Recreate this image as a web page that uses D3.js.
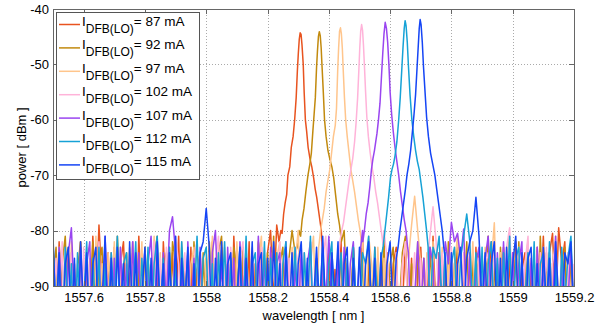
<!DOCTYPE html>
<html lang="en">
<head>
   <meta charset="UTF-8">
   <title>DFB spectra</title>
   <script src="https://d3js.org/d3.v7.min.js"></script>
   <style>
       body {
           margin: 0;
           background: #fff;
           font-family: "Liberation Sans", Arial, sans-serif;
       }
       .spectra-svg {
           display: block;
       }
       .axis text {
           font-size: 13px;
           fill: #000;
       }
       .axis line {
           stroke: #666;
           shape-rendering: crispEdges;
       }
       .grid line {
           stroke: #aaa;
           stroke-dasharray: 1,2;
           shape-rendering: crispEdges;
       }
       .trace {
           fill: none;
           stroke-width: 1.5;
           stroke-linejoin: round;
       }
   </style>
</head>
<body>
   <svg class="spectra-svg" id="spectra" width="615" height="323"></svg>
   <script>
    // laser currents and trace colours
    var currents = [87, 92, 97, 102, 107, 112, 115];
    var colors = ["#E8531F", "#C28A0E", "#FFC58C", "#FFB3D9", "#9A45F0", "#16A2D6", "#1545F5"];

    var xTicks = [1557.6, 1557.8, 1558, 1558.2, 1558.4, 1558.6, 1558.8, 1559, 1559.2];
    var yTicks = [-90, -80, -70, -60, -50, -40];

    // noise floor, sampled every 0.01 nm from 1557.5 nm (dBm)
    var noiseStart = 1557.5, noiseStep = 0.01;
    var noise87 = [
        -84,-98,-82,-93,-101,-83,-95,-86,-104,-82,
        -96,-86,-99,-81,-94,-79,-90,-103,-84,-97,
        -83,-106,-86,-82,-97,-88,-84,-100,-81,-95,
        -102,-85,-96,-83,-87,-105,-82,-93,-99,-84,
        -95,-81,-103,-86,-97,-83,-108,-87,-84,-99,
        -85,-96,-82,-104,-92,-83,-100,-86,-105,-81,
        -94,-101,-84,-97,-82,-107,-86,-96,-83,-99,
        -84,-80,-93,-79,-82,-85,-83,-86,-84,-88,
        -97,-85,-102,-83,-96,-86,-104,-82,-94,-100,
        -84,-103,-87,-97,-82,-106,-86,-95,-83,-101,
        -96,-81,-99,-85,-104,-83,-97,-87,-102,-84,
        -98,-86,-83,-103,-94,-82,-99,-85,-107,-87,
        -83,-97,-86,-101,-81,-95,-84,-105,-87,-99,
        -85,-94,-82,-103,-86,-98,-84,-108,-83,-96,
        -100,-84,-93,-82,-105,-86,-97,-83,-101,-85,
        -96,-82,-103,-87,-84,-99,-86,-106,-83,-94,
        -81,-98,-84,-80.5,-95,-79.5,-86,-82,-100,-84,
        -93];
    var noise92 = [
        -88,-83,-101,-86,-81,-97,-84,-104,-87,-82,
        -99,-85,-95,-82,-106,-86,-83,-98,-94,-84,
        -103,-81,-93,-99,-84,-96,-82,-107,-86,-97,
        -83,-94,-102,-85,-81,-104,-87,-84,-98,-82,
        -86,-105,-83,-96,-85,-100,-82,-94,-103,-84,
        -97,-82,-93,-108,-84,-81,-96,-86,-101,-83,
        -87,-99,-83,-95,-106,-85,-97,-82,-86,-103,
        -84,-96,-81,-101,-86,-83,-98,-85,-80,-84,
        -82,-95,-86,-100,-84,-97,-83,-99,-87,-102,
        -85,-81,-96,-84,-104,-80,-93,-100,-83,-95,
        -98,-84,-103,-82,-93,-107,-85,-96,-81,-104,
        -86,-83,-100,-94,-84,-81,-98,-86,-106,-82,
        -96,-85,-102,-83,-94,-99,-84,-93,-104,-82,
        -98,-86,-83,-105,-95,-82,-100,-85,-96,-84,
        -103,-92,-81,-98,-85,-104,-83,-95,-86,-100,
        -84,-97,-82,-108,-93,-83,-99,-85,-102,-81,
        -95,-84,-104,-86,-82,-98,-92,-83,-101,-85,
        -96];
    var noise97 = [
        -86,-102,-83,-96,-85,-105,-82,-94,-100,-84,
        -98,-83,-93,-104,-81,-97,-86,-101,-84,-95,
        -82,-99,-85,-106,-93,-83,-100,-86,-96,-82,
        -103,-85,-94,-81,-98,-84,-102,-92,-83,-97,
        -85,-100,-82,-95,-105,-86,-83,-98,-93,-102,
        -84,-96,-81,-104,-86,-99,-83,-94,-85,-106,
        -82,-93,-101,-84,-97,-83,-103,-86,-81,-98,
        -94,-84,-104,-85,-82,-100,-92,-96,-83,-86,
        -80,-95,-84,-102,-86,-81,-99,-85,-93,-83,
        -97,-86,-103,-84,-95,-83,-100,-92,-85,-98,
        -84,-82,-96,-81,-86,-99,-83,-102,-85,-97,
        -93,-104,-84,-98,-86,-82,-85,-79,-73.8,-80,
        -86,-101,-84,-96,-82,-105,-93,-83,-99,-85,
        -103,-86,-81,-97,-84,-104,-93,-82,-98,-85,
        -95,-83,-100,-86,-78.6,-97,-84,-102,-85,-81,
        -99,-93,-83,-106,-86,-82,-101,-95,-84,-97,
        -83,-103,-86,-98,-81,-94,-85,-105,-84,-92,
        -100];
    var noise102 = [
        -100,-85,-94,-82,-104,-93,-84,-98,-86,-102,
        -83,-96,-85,-106,-94,-82,-101,-86,-99,-84,
        -92,-103,-83,-95,-85,-100,-82,-97,-105,-86,
        -84,-98,-93,-82,-102,-85,-96,-83,-104,-94,
        -81,-86,-100,-84,-95,-103,-85,-82,-99,-92,
        -102,-84,-96,-86,-81,-100,-85,-106,-83,-94,
        -98,-85,-82,-104,-93,-84,-97,-101,-83,-86,
        -105,-95,-84,-99,-82,-93,-103,-85,-96,-83,
        -86,-101,-84,-94,-82,-104,-92,-98,-85,-81,
        -97,-84,-102,-86,-95,-83,-99,-85,-93,-82,
        -101,-86,-83,-96,-84,-103,-92,-82,-80,-85,
        -94,-104,-84,-99,-86,-82,-100,-93,-84,-97,
        -85,-102,-86,-81,-75.7,-82,-95,-84,-105,-93,
        -83,-99,-86,-103,-84,-96,-82,-101,-93,-85,
        -104,-86,-84,-98,-82,-94,-85,-100,-83,-79.5,
        -92,-102,-84,-97,-86,-81,-105,-85,-99,-84,
        -95,-83,-101,-86,-82,-97,-85,-103,-84,-98,
        -86];
    var noise107 = [
        -85,-98,-83,-94,-102,-84,-79.5,-93,-100,-83,
        -97,-86,-82,-104,-93,-84,-99,-81,-95,-106,
        -85,-101,-83,-96,-86,-103,-82,-94,-84,-99,
        -105,-86,-81,-97,-85,-100,-84,-93,-80,-77.5,
        -84,-99,-86,-104,-82,-95,-85,-101,-83,-96,
        -92,-107,-84,-80,-94,-86,-102,-83,-97,-85,
        -100,-82,-93,-84,-105,-86,-98,-81,-95,-85,
        -103,-83,-96,-86,-84,-101,-82,-94,-106,-85,
        -97,-83,-102,-86,-82,-99,-85,-104,-84,-93,
        -81,-92,-103,-84,-97,-83,-100,-86,-82,-95,
        -85,-80,-84,-99,-86,-101,-84,-94,-82,-93,
        -98,-85,-83,-102,-86,-96,-84,-104,-92,-82,
        -95,-85,-99,-83,-86,-103,-84,-97,-82,-86,
        -78.5,-82,-80.5,-85,-79.7,-96,-84,-101,-86,-83,
        -98,-85,-81,-94,-104,-84,-97,-82,-93,-100,
        -84,-99,-86,-82,-105,-95,-85,-102,-83,-96,
        -86,-103,-84,-94,-81,-98,-85,-106,-93,-83,
        -97];
    var noise112 = [
        -82,-95,-85,-101,-83,-97,-86,-104,-84,-99,
        -93,-82,-103,-85,-96,-83,-106,-86,-98,-84,
        -94,-81,-100,-86,-84,-104,-92,-82,-99,-85,
        -96,-83,-102,-86,-81,-95,-85,-107,-83,-98,
        -86,-101,-82,-93,-84,-105,-95,-81,-97,-85,
        -83,-99,-86,-103,-84,-94,-82,-100,-85,-104,
        -92,-83,-97,-81,-99,-86,-84,-102,-95,-82,
        -101,-85,-94,-84,-105,-86,-82,-98,-93,-83,
        -96,-103,-84,-95,-81,-100,-85,-93,-83,-99,
        -86,-82,-104,-92,-84,-97,-85,-101,-83,-94,
        -102,-84,-86,-81,-98,-83,-95,-85,-80,-86,
        -97,-84,-100,-86,-83,-99,-85,-94,-82,-93,
        -84,-98,-86,-96,-83,-85,-81,-95,-84,-101,
        -86,-83,-97,-85,-81,-77,-82,-95,-84,-100,
        -83,-102,-86,-82,-97,-85,-104,-84,-94,-81,
        -99,-85,-83,-101,-92,-84,-97,-82,-105,-86,
        -84,-95,-82,-99,-86,-103,-83,-93,-85,-81,
        -96];
    var noise115 = [
        -81,-97,-84,-103,-86,-83,-99,-85,-106,-82,
        -95,-84,-101,-86,-83,-104,-93,-81,-99,-85,
        -102,-83,-94,-86,-106,-82,-97,-84,-100,-92,
        -83,-99,-85,-103,-82,-95,-86,-105,-84,-97,
        -81,-101,-85,-94,-83,-107,-86,-98,-84,-82,
        -76,-83,-103,-85,-97,-82,-101,-86,-84,-99,
        -93,-83,-105,-85,-96,-82,-102,-86,-84,-104,
        -85,-98,-82,-94,-86,-106,-83,-97,-84,-101,
        -86,-82,-99,-85,-104,-93,-83,-96,-81,-95,
        -103,-84,-92,-82,-99,-86,-83,-107,-85,-97,
        -83,-101,-86,-82,-95,-85,-104,-84,-98,-86,
        -82,-96,-85,-103,-84,-94,-81,-99,-86,-83,
        -101,-85,-95,-84,-105,-86,-82,-97,-85,-99,
        -84,-103,-86,-83,-96,-85,-82,-80,-74,-81,
        -94,-84,-101,-86,-82,-99,-85,-106,-83,-95,
        -86,-81,-98,-84,-103,-85,-83,-97,-86,-102,
        -83,-94,-85,-104,-82,-93,-99,-84,-86,-82,
        -97];

    // lasing peaks: centre wavelength (nm) and [offset nm, dBm] profile
    var peakCenters = [1558.3075, 1558.369, 1558.437, 1558.507, 1558.584, 1558.649, 1558.698];
    var peak87 = [[-0.070,-82],[-0.064,-80],[-0.060,-80.5],[-0.055,-77],[-0.050,-75],[-0.045,-73.5],[-0.041,-70],[-0.035,-68.5],[-0.030,-65],[-0.024,-63],[-0.019,-60],[-0.014,-56],[-0.010,-51],[-0.007,-48],[-0.004,-45.5],[-0.001,-44.3],[0.002,-44.6],[0.005,-46.5],[0.009,-50],[0.012,-55],[0.016,-60],[0.020,-62],[0.025,-65],[0.031,-67],[0.037,-68.5],[0.043,-70.5],[0.048,-72.5],[0.053,-74],[0.058,-76],[0.063,-78],[0.068,-80],[0.072,-84]];
    var peak92 = [[-0.072,-83],[-0.066,-80],[-0.061,-81],[-0.056,-78],[-0.050,-76],[-0.044,-73],[-0.037,-70],[-0.031,-68],[-0.026,-66],[-0.021,-62],[-0.017,-59],[-0.013,-56],[-0.009,-50.5],[-0.006,-47.5],[-0.003,-45],[0,-44.1],[0.003,-44.8],[0.006,-47],[0.009,-50.5],[0.013,-55],[0.017,-60],[0.022,-63],[0.028,-65.5],[0.034,-67],[0.041,-68.5],[0.047,-70.5],[0.053,-73.5],[0.060,-77],[0.066,-79],[0.072,-82]];
    var peak97 = [[-0.070,-83],[-0.064,-80],[-0.058,-78],[-0.052,-76],[-0.046,-73],[-0.040,-71],[-0.034,-69],[-0.028,-66],[-0.022,-63],[-0.016,-61],[-0.012,-58],[-0.008,-51],[-0.005,-47],[-0.002,-44],[0.001,-43.4],[0.004,-44.5],[0.007,-47],[0.010,-51],[0.014,-56],[0.018,-60],[0.023,-63],[0.029,-66],[0.035,-69],[0.041,-71],[0.047,-73],[0.053,-75.5],[0.059,-78],[0.065,-80],[0.071,-83]];
    var peak102 = [[-0.071,-82],[-0.065,-80],[-0.059,-78.5],[-0.053,-76],[-0.047,-73.5],[-0.041,-71],[-0.035,-69],[-0.029,-67],[-0.023,-64],[-0.018,-60.5],[-0.013,-56],[-0.009,-51],[-0.006,-47],[-0.003,-44],[0,-42.8],[0.003,-43.8],[0.006,-46.5],[0.009,-50],[0.013,-55],[0.017,-59.5],[0.022,-63],[0.028,-66],[0.034,-68.5],[0.040,-70.5],[0.046,-73],[0.052,-75],[0.058,-77.5],[0.064,-80],[0.070,-82.5]];
    var peak107 = [[-0.073,-82],[-0.068,-80],[-0.062,-77],[-0.056,-75],[-0.050,-72],[-0.045,-69],[-0.040,-67],[-0.035,-65.5],[-0.031,-64],[-0.027,-62.5],[-0.022,-60],[-0.017,-57],[-0.012,-52],[-0.008,-48],[-0.004,-44.5],[0,-42.4],[0.004,-43.5],[0.008,-46],[0.012,-50],[0.016,-55],[0.021,-59],[0.026,-62],[0.032,-65],[0.038,-67.5],[0.044,-70],[0.050,-73],[0.056,-75.5],[0.062,-78],[0.068,-80],[0.073,-83]];
    var peak112 = [[-0.072,-83],[-0.066,-80],[-0.060,-77],[-0.054,-74],[-0.048,-70.5],[-0.043,-69],[-0.038,-68],[-0.033,-66.5],[-0.027,-64],[-0.021,-60],[-0.016,-56],[-0.011,-51],[-0.007,-47],[-0.003,-43.5],[0,-42.1],[0.003,-43],[0.007,-46],[0.011,-50.5],[0.016,-55.5],[0.022,-60],[0.028,-63],[0.034,-65.5],[0.040,-67.5],[0.046,-69],[0.052,-71.5],[0.058,-74],[0.064,-77],[0.070,-80],[0.075,-83]];
    var peak115 = [[-0.072,-83],[-0.066,-80],[-0.060,-77.5],[-0.054,-75],[-0.048,-72.5],[-0.043,-70],[-0.037,-68],[-0.031,-65.5],[-0.025,-62],[-0.020,-59],[-0.015,-55.5],[-0.010,-50.5],[-0.006,-46.5],[-0.003,-43.5],[0,-41.9],[0.003,-42.8],[0.007,-46],[0.011,-50.5],[0.016,-55],[0.021,-59.5],[0.027,-63],[0.034,-66],[0.041,-68],[0.048,-70],[0.054,-72.5],[0.060,-75],[0.066,-77.5],[0.072,-80],[0.077,-83]];

    var noiseSets = [noise87, noise92, noise97, noise102, noise107, noise112, noise115];
    var peakSets = [peak87, peak92, peak97, peak102, peak107, peak112, peak115];

    var margin = {top: 9, right: 41, bottom: 37, left: 53},
        width = 615 - margin.left - margin.right,
        height = 323 - margin.top - margin.bottom;

    var x = d3.scaleLinear().domain([1557.5, 1559.2]).range([0, width]);
    var y = d3.scaleLinear().domain([-90, -40]).range([height, 0]);

    var svg = d3.select("#spectra")
      .append("g")
        .attr("transform", "translate(" + margin.left + "," + margin.top + ")");

    svg.append("defs").append("clipPath").attr("id", "plot-clip")
      .append("rect").attr("width", width).attr("height", height);

    // dotted grid
    var grid = svg.append("g").attr("class", "grid");
    grid.selectAll(".gx").data(xTicks.slice(0, -1)).enter().append("line")
        .attr("x1", function(d) { return Math.round(x(d)) + 0.5; })
        .attr("x2", function(d) { return Math.round(x(d)) + 0.5; })
        .attr("y1", 0).attr("y2", height);
    grid.selectAll(".gy").data(yTicks.slice(1, -1)).enter().append("line")
        .attr("y1", function(d) { return Math.round(y(d)) + 0.5; })
        .attr("y2", function(d) { return Math.round(y(d)) + 0.5; })
        .attr("x1", 0).attr("x2", width);

    // build each trace: noise floor with the lasing peak put in
    var traces = noiseSets.map(function(noise, k) {
        var c = peakCenters[k], prof = peakSets[k];
        var lo = c + prof[0][0], hi = c + prof[prof.length - 1][0];
        var pts = [];
        noise.forEach(function(v, i) {
            var w = noiseStart + i * noiseStep;
            if (w < lo || w > hi) pts.push([w, v]);
        });
        prof.forEach(function(p) { pts.push([c + p[0], p[1]]); });
        pts.sort(function(a, b) { return a[0] - b[0]; });
        return pts;
    });

    var line = d3.line()
        .x(function(d) { return x(d[0]); })
        .y(function(d) { return y(d[1]); });

    svg.append("g").attr("clip-path", "url(#plot-clip)")
      .selectAll("path")
        .data(traces)
      .enter().append("path")
        .attr("class", "trace")
        .attr("stroke", function(d, i) { return colors[i]; })
        .attr("d", line);

    // axes, MATLAB style: ticks inside, box all round
    svg.append("g").attr("class", "axis")
        .attr("transform", "translate(0," + height + ")")
        .call(d3.axisBottom(x).tickValues(xTicks).tickSize(-5).tickSizeOuter(0).tickPadding(7)
            .tickFormat(function(d) { return String(d); }))
        .call(function(g) { g.select(".domain").remove(); });
    svg.append("g").attr("class", "axis")
        .call(d3.axisTop(x).tickValues(xTicks).tickSize(-5).tickSizeOuter(0).tickFormat(""))
        .call(function(g) { g.select(".domain").remove(); });
    svg.append("g").attr("class", "axis")
        .call(d3.axisLeft(y).tickValues(yTicks).tickSize(-5).tickSizeOuter(0).tickPadding(4)
            .tickFormat(function(d) { return String(d); }))
        .call(function(g) { g.select(".domain").remove(); });
    svg.append("g").attr("class", "axis")
        .attr("transform", "translate(" + width + ",0)")
        .call(d3.axisRight(y).tickValues(yTicks).tickSize(-5).tickSizeOuter(0).tickFormat(""))
        .call(function(g) { g.select(".domain").remove(); });

    svg.append("rect")
        .attr("x", 0.5).attr("y", 0.5)
        .attr("width", width).attr("height", height)
        .attr("fill", "none").attr("stroke", "#666");

    svg.append("text")
        .attr("x", width / 2).attr("y", height + 34)
        .attr("text-anchor", "middle")
        .style("font-size", "13px")
        .text("wavelength [ nm ]");

    svg.append("text")
        .attr("transform", "translate(-27," + (height / 2) + ") rotate(-90)")
        .attr("text-anchor", "middle")
        .style("font-size", "13px")
        .text("power [ dBm ]");

    // legend
    var legend = svg.append("g").attr("transform", "translate(3,3)");
    legend.append("rect")
        .attr("x", 0.5).attr("y", 0.5)
        .attr("width", 143).attr("height", 167)
        .attr("fill", "#fff").attr("stroke", "#555");

    var item = legend.selectAll(".item")
        .data(currents)
      .enter().append("g")
        .attr("transform", function(d, i) { return "translate(0," + (12.5 + i * 23.4) + ")"; });

    item.append("line")
        .attr("x1", 3).attr("x2", 24)
        .attr("stroke", function(d, i) { return colors[i]; })
        .attr("stroke-width", 1.5);

    var label = item.append("text")
        .attr("x", 26).attr("y", 1.5)
        .style("font-size", "13.5px");
    label.append("tspan").text("I");
    label.append("tspan").attr("dy", 7).style("font-size", "12px").text("DFB(LO)");
    label.append("tspan").attr("dy", -7).text(function(d) { return "= " + d + " mA"; });
   </script>
</body>
</html>
